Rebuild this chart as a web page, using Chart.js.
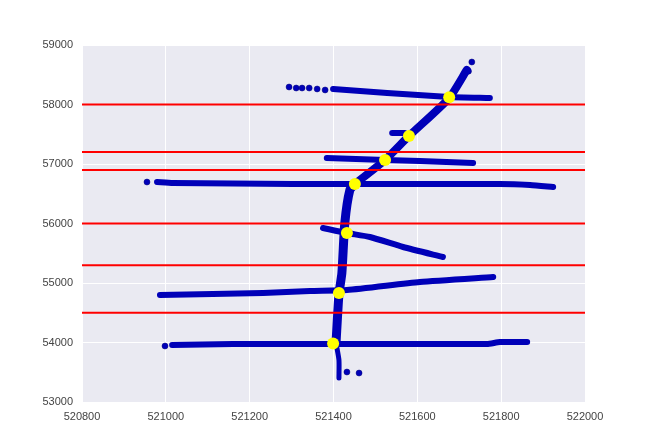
<!DOCTYPE html>
<html><head><meta charset="utf-8">
<script src="https://cdn.jsdelivr.net/npm/chart.js@4.4.0/dist/chart.umd.min.js"></script>
<style>html,body{margin:0;padding:0;background:#fff}</style>
</head><body>
<canvas id="c" width="650" height="447" style="width:650px;height:447px"></canvas>
<script>
// Axis ranges / ticks
const xMin = 520800, xMax = 522000, xStep = 200;
const yMin = 53000, yMax = 59000, yStep = 1000;

// Red horizontal reference levels
const redLevels = [54500, 55300, 56000, 56900, 57200, 58000];

// Blue tracks
const track1X = [521399, 521528, 521676, 521773];
const track1Y = [58261, 58193, 58126, 58109];
const track2X = [521384, 521523, 521606, 521733];
const track2Y = [57101, 57067, 57050, 57017];
const stubX = [521540, 521570];
const stubY = [57521, 57521];
const track3X = [520979, 521017, 521303, 521797, 521869, 521924];
const track3Y = [56697, 56681, 56664, 56664, 56647, 56613];
const track4X = [521375, 521432, 521487, 521566, 521661];
const track4Y = [55924, 55840, 55773, 55605, 55437];
const track5X = [520986, 521112, 521232, 521344, 521432, 521606, 521781];
const track5Y = [54798, 54815, 54832, 54866, 54882, 55017, 55101];
const track6X = [521015, 521160, 521766, 521797, 521862];
const track6Y = [53958, 53975, 53975, 54008, 54008];
const diagX = [521451, 521523, 521580, 521676, 521718];
const diagY = [56664, 57067, 57471, 58109, 58580];
const vertX = [521451, 521439, 521427, 521420, 521413, 521406];
const vertY = [56664, 56563, 56008, 55168, 54815, 53992];
const tailX = [521406, 521413, 521413];
const tailY = [53992, 53706, 53403];
const isoX = [521294, 521311, 521325, 521342, 521361, 521380, 520955, 520998, 521432, 521461, 521730, 521722];
const isoY = [58294, 58277, 58277, 58277, 58261, 58244, 56697, 53941, 53504, 53487, 58714, 58560];

// Yellow intersection points
const yellowX = [521676, 521580, 521523, 521451, 521432, 521413, 521399];
const yellowY = [58120, 57471, 57067, 56664, 55840, 54832, 53985];

const BLUE = '#0000b8';
const zip = (xs, ys) => xs.map((x, i) => ({x: x, y: ys[i]}));

function track(xs, ys, w) {
  return {data: zip(xs, ys), showLine: true, borderColor: BLUE, borderWidth: w,
    borderCapStyle: 'round', borderJoinStyle: 'round', pointRadius: 0, order: 3, tension: 0.2};
}

const datasets = [];
datasets.push({data: zip(yellowX, yellowY), backgroundColor: '#ffff00', borderColor: '#ffff00',
  pointRadius: 6, borderWidth: 0, order: 0});
redLevels.forEach(v => datasets.push({data: [{x: xMin, y: v}, {x: xMax, y: v}], showLine: true,
  borderColor: '#ff0000', borderWidth: 2, pointRadius: 0, order: 1}));
datasets.push(track(track1X, track1Y, 6));
datasets.push(track(track2X, track2Y, 6));
datasets.push(track(stubX, stubY, 6));
datasets.push(track(track3X, track3Y, 6));
datasets.push(track(track4X, track4Y, 6));
datasets.push(track(track5X, track5Y, 6));
datasets.push(track(track6X, track6Y, 6));
datasets.push(track(diagX, diagY, 8));
datasets.push(track(vertX, vertY, 9));
datasets.push(track(tailX, tailY, 5));
datasets.push({data: zip(isoX, isoY), backgroundColor: BLUE, borderColor: '#00007a', borderWidth: 0.5,
  pointRadius: 3, order: 3});

const bgPlugin = {
  id: 'bg',
  beforeDraw(chart) {
    const a = chart.chartArea, ctx = chart.ctx;
    ctx.save(); ctx.fillStyle = '#eaeaf2';
    ctx.fillRect(a.left, a.top, a.right - a.left, a.bottom - a.top);
    ctx.restore();
  }
};

new Chart(document.getElementById('c'), {
  type: 'scatter',
  data: {datasets: datasets},
  plugins: [bgPlugin],
  options: {
    responsive: false, animation: false,
    layout: {padding: {left: 0, top: 45, right: 65, bottom: 0}},
    plugins: {legend: {display: false}, tooltip: {enabled: false}},
    scales: {
      x: {type: 'linear', min: xMin, max: xMax,
        afterFit: s => { s.height = 45; },
        ticks: {stepSize: xStep, padding: 8, color: '#444', font: {family: 'Liberation Sans, Arial', size: 11},
          callback: v => String(v)},
        grid: {color: '#ffffff', lineWidth: 1, drawTicks: false}, border: {display: false}},
      y: {type: 'linear', min: yMin, max: yMax,
        afterFit: s => { s.width = 82; },
        ticks: {stepSize: yStep, padding: 9, color: '#444', font: {family: 'Liberation Sans, Arial', size: 11},
          callback: v => String(v)},
        grid: {color: '#ffffff', lineWidth: 1, drawTicks: false}, border: {display: false}}
    }
  }
});
</script>
</body></html>
